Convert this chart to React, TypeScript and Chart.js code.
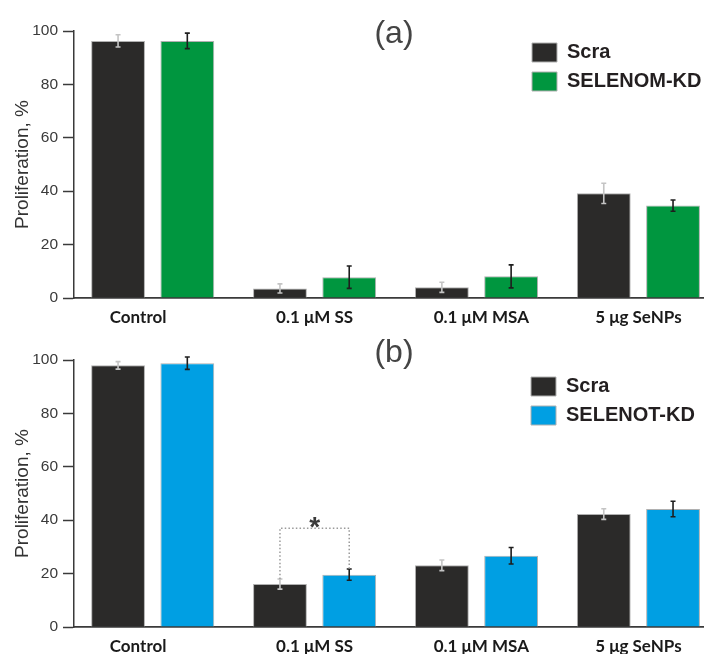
import React, { useEffect, useRef } from 'react';
import { Chart, registerables } from 'chart.js';

Chart.register(...registerables);

// ---- data ----
const CATEGORIES = ['Control', '0.1 μM SS', '0.1 μM MSA', '5 μg SeNPs'];
const Y_TICKS = [0, 20, 40, 60, 80, 100];
const Y_TITLE = 'Proliferation, %';
const SCRA_LABEL = 'Scra';

const A_LABEL = '(a)';
const A_KD_LABEL = 'SELENOM-KD';
const A_SCRA = [96.3, 3.6, 4.0, 39.2];
const A_SCRA_ERR = [2.3, 1.7, 1.9, 3.8];
const A_KD = [96.3, 7.8, 8.1, 34.6];
const A_KD_ERR = [2.9, 4.2, 4.3, 2.1];

const B_LABEL = '(b)';
const B_KD_LABEL = 'SELENOT-KD';
const B_SCRA = [98.0, 16.1, 23.1, 42.3];
const B_SCRA_ERR = [1.4, 1.9, 2.0, 2.0];
const B_KD = [98.8, 19.6, 26.7, 44.2];
const B_KD_ERR = [2.3, 2.1, 3.1, 2.9];
const B_SIG_CATEGORY = 1;
const B_SIG_LEVEL = 37;
const B_SIG_MARK = '*';

// ---- styles ----
const AXIS = '#3a3a3a';
const SCRA_COLOR = '#2b2a29';
const GREEN = '#00963f';
const BLUE = '#009fe3';
const BAR_BORDER = '#b0b0b0';
const LABEL_SHIFT = [-0.09, 0, 0.03, 0];

Chart.defaults.font.family = "'Liberation Sans', Arial, sans-serif";

const errorBarPlugin = {
  id: 'errorBars',
  afterDatasetsDraw(chart: any) {
    const ctx = chart.ctx;
    const ys = chart.scales.y;
    chart.data.datasets.forEach((ds: any, d: number) => {
      const meta = chart.getDatasetMeta(d);
      meta.data.forEach((bar: any, i: number) => {
        const v = ds.data[i].y;
        const e = ds.errors[i];
        const top = ys.getPixelForValue(v + e);
        const bot = ys.getPixelForValue(v - e);
        ctx.save();
        ctx.strokeStyle = ds.errorColor;
        ctx.lineWidth = 1.6;
        ctx.beginPath();
        ctx.moveTo(bar.x, top);
        ctx.lineTo(bar.x, bot);
        ctx.moveTo(bar.x - 2.5, top);
        ctx.lineTo(bar.x + 2.5, top);
        ctx.moveTo(bar.x - 2.5, bot);
        ctx.lineTo(bar.x + 2.5, bot);
        ctx.stroke();
        ctx.restore();
      });
    });
  },
};

const sigPlugin = {
  id: 'sigBracket',
  afterDatasetsDraw(chart: any, _a: any, opts: any) {
    if (!opts || opts.index == null) return;
    const ctx = chart.ctx;
    const ys = chart.scales.y;
    const ds0 = chart.data.datasets[0];
    const ds1 = chart.data.datasets[1];
    const b0 = chart.getDatasetMeta(0).data[opts.index];
    const b1 = chart.getDatasetMeta(1).data[opts.index];
    const y0 = ys.getPixelForValue(ds0.data[opts.index].y + ds0.errors[opts.index]);
    const y1 = ys.getPixelForValue(ds1.data[opts.index].y + ds1.errors[opts.index]);
    const yl = ys.getPixelForValue(opts.level);
    ctx.save();
    ctx.strokeStyle = '#9a9a9a';
    ctx.lineWidth = 1.5;
    ctx.setLineDash([1.5, 2.2]);
    ctx.beginPath();
    ctx.moveTo(b0.x, y0);
    ctx.lineTo(b0.x, yl);
    ctx.lineTo(b1.x, yl);
    ctx.lineTo(b1.x, y1);
    ctx.stroke();
    ctx.setLineDash([]);
    ctx.fillStyle = '#3a3a3a';
    ctx.font = "bold 28px 'Liberation Sans', Arial, sans-serif";
    ctx.textAlign = 'center';
    ctx.textBaseline = 'alphabetic';
    ctx.fillText(opts.mark, (b0.x + b1.x) / 2, yl + 8);
    ctx.restore();
  },
};

const panelLabelPlugin = {
  id: 'panelLabel',
  afterDraw(chart: any, _a: any, opts: any) {
    const ctx = chart.ctx;
    ctx.save();
    ctx.fillStyle = '#444';
    ctx.font = "32px 'Liberation Sans', Arial, sans-serif";
    ctx.textAlign = 'center';
    ctx.textBaseline = 'alphabetic';
    ctx.fillText(opts.text, opts.x, opts.y);
    ctx.restore();
  },
};

const legendPlacePlugin = {
  id: 'legendPlace',
  afterLayout(chart: any, _a: any, opts: any) {
    const lg = chart.legend;
    if (!lg) return;
    lg.left = opts.x;
    lg.top = opts.y;
    lg.width = 704 - opts.x;
    lg.height = 90;
    lg.right = 704;
    lg.bottom = opts.y + 90;
  },
};

function makeConfig(p: any) {
  return {
    type: 'bar',
    data: {
      datasets: [
        {
          label: SCRA_LABEL,
          data: p.scra.map((y: number, x: number) => ({ x, y })),
          errors: p.scraErr,
          errorColor: '#c4c4c4',
          backgroundColor: SCRA_COLOR,
          borderColor: BAR_BORDER,
          borderWidth: 1,
          categoryPercentage: 0.882,
          barPercentage: 0.777,
        },
        {
          label: p.kdLabel,
          data: p.kd.map((y: number, x: number) => ({ x, y })),
          errors: p.kdErr,
          errorColor: '#1e1e1e',
          backgroundColor: p.kdColor,
          borderColor: BAR_BORDER,
          borderWidth: 1,
          categoryPercentage: 0.882,
          barPercentage: 0.777,
        },
      ],
    },
    options: {
      animation: false,
      responsive: false,
      devicePixelRatio: 1,
      events: [],
      layout: { padding: { top: p.topPad, right: 1, left: 0, bottom: 0 } },
      scales: {
        x: {
          type: 'linear',
          min: -0.486,
          max: 3.399,
          offset: false,
          afterBuildTicks: (s: any) => {
            s.ticks = CATEGORIES.map((_c, i) => ({ value: i + LABEL_SHIFT[i] }));
          },
          afterFit: (s: any) => {
            s.height = p.axisH;
          },
          grid: { display: false, drawTicks: false, offset: false },
          border: { display: true, color: AXIS, width: 1.8 },
          ticks: {
            autoSkip: false,
            maxRotation: 0,
            minRotation: 0,
            padding: 9,
            color: '#1a1a1a',
            font: { family: 'Lato', weight: 'bold', size: 17 },
            callback: (_v: any, i: number) => CATEGORIES[i],
          },
        },
        y: {
          min: 0,
          max: 100,
          afterBuildTicks: (s: any) => {
            s.ticks = Y_TICKS.map((v) => ({ value: v }));
          },
          afterFit: (s: any) => {
            s.width = 74;
          },
          grid: { drawOnChartArea: false, tickLength: 11, tickWidth: 1.5, tickColor: AXIS },
          border: { display: true, color: AXIS, width: 1.5 },
          ticks: { padding: 5, color: '#3a3a3a', font: { size: 15.5 } },
          title: {
            display: true,
            text: Y_TITLE,
            color: '#333',
            font: { size: 19 },
            padding: { top: 11, bottom: 0 },
          },
        },
      },
      plugins: {
        tooltip: { enabled: false },
        title: { display: false },
        legend: {
          display: true,
          position: 'chartArea',
          align: 'start',
          labels: {
            boxWidth: 25,
            boxHeight: 19,
            padding: 9,
            color: '#231f20',
            font: { size: 20, weight: 'bold' },
          },
        },
        legendPlace: { x: p.legendX, y: p.legendY },
        panelLabel: { text: p.panelLabel, x: 394, y: p.titleY },
        sigBracket: p.sig || {},
      },
    },
    plugins: [errorBarPlugin, sigPlugin, panelLabelPlugin, legendPlacePlugin],
  };
}

function Panel(props: { cfg: any; height: number }) {
  const ref = useRef<HTMLCanvasElement | null>(null);
  useEffect(() => {
    if (!ref.current) return;
    const chart = new Chart(ref.current, props.cfg as any);
    return () => chart.destroy();
  }, []);
  return (
    <canvas ref={ref} width={704} height={props.height} style={{ display: 'block', width: 704, height: props.height }} />
  );
}

export default function App() {
  const cfgA = makeConfig({
    scra: A_SCRA,
    scraErr: A_SCRA_ERR,
    kd: A_KD,
    kdErr: A_KD_ERR,
    kdLabel: A_KD_LABEL,
    kdColor: GREEN,
    panelLabel: A_LABEL,
    topPad: 31,
    axisH: 29,
    legendX: 523,
    legendY: 33.5,
    titleY: 43,
  });
  const cfgB = makeConfig({
    scra: B_SCRA,
    scraErr: B_SCRA_ERR,
    kd: B_KD,
    kdErr: B_KD_ERR,
    kdLabel: B_KD_LABEL,
    kdColor: BLUE,
    panelLabel: B_LABEL,
    topPad: 33,
    axisH: 27,
    legendX: 522,
    legendY: 40.5,
    titleY: 35,
    sig: { index: B_SIG_CATEGORY, level: B_SIG_LEVEL, mark: B_SIG_MARK },
  });
  return (
    <div style={{ position: 'absolute', left: 0, top: 0, width: 704, height: 654, background: '#fff' }}>
      <Panel cfg={cfgA} height={327} />
      <Panel cfg={cfgB} height={327} />
    </div>
  );
}
